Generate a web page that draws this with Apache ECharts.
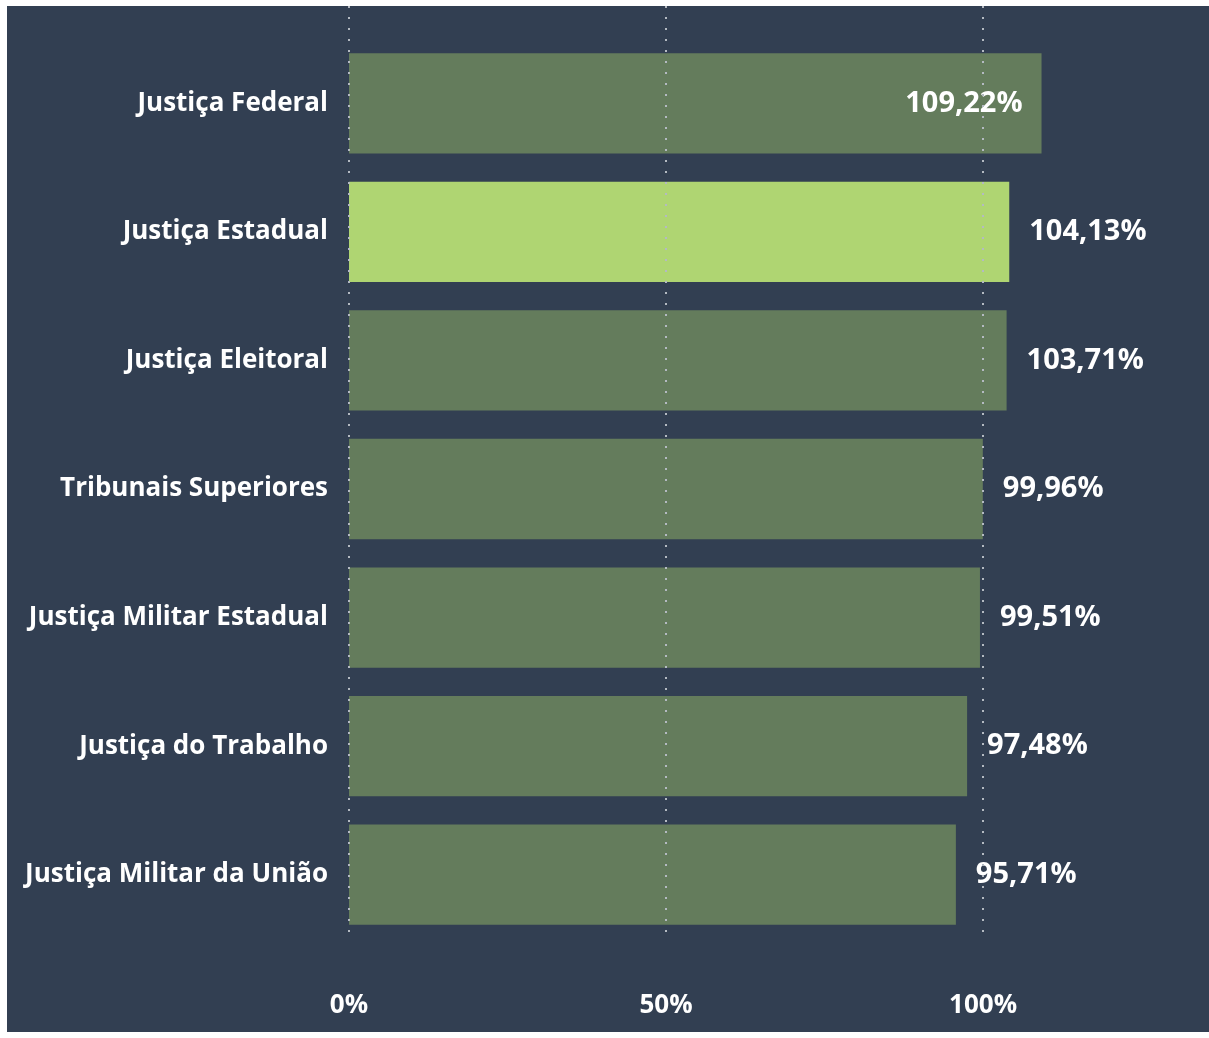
<!DOCTYPE html>
<html>
<head>
<meta charset="utf-8">
<script src="https://cdn.jsdelivr.net/npm/echarts@6/dist/echarts.min.js"></script>
<style>
  html, body { margin: 0; padding: 0; background: #ffffff; }
  #main {
    position: absolute;
    left: 7px;
    top: 6px;
    width: 1202px;
    height: 1026px;
    background: #323f52;
  }
</style>
</head>
<body>
<div id="main"></div>
<script>
// data
const categories = [
  "Justiça Federal",
  "Justiça Estadual",
  "Justiça Eleitoral",
  "Tribunais Superiores",
  "Justiça Militar Estadual",
  "Justiça do Trabalho",
  "Justiça Militar da União"
];
const values = [109.22, 104.13, 103.71, 99.96, 99.51, 97.48, 95.71];
const highlighted = "Justiça Estadual";
const tickValues = [0, 50, 100];

const barColor = "#647c5c";
const highlightColor = "#afd572";
const labelFont = "'Open Sans', 'Noto Sans', sans-serif";

let chartDom = document.getElementById("main");
let myChart = echarts.init(chartDom);

function fmt(v) {
  return v.toFixed(2).replace(".", ",") + "%";
}

let barData = values.map((v, i) => {
  let item = {
    value: v,
    itemStyle: { color: categories[i] === highlighted ? highlightColor : barColor },
  };
  // the longest bar keeps its label inside
  if (i === 0) {
    item.label = { position: "insideRight", distance: 19 };
  }
  return item;
});

let option = {
  animation: false,
  grid: [
    { left: 342, top: 33, width: 856, height: 900 },
    { left: 342, top: 0, width: 856, height: 934 },
  ],
  xAxis: [
    {
      gridIndex: 0,
      type: "value",
      min: 0,
      max: 135,
      show: false,
    },
    {
      gridIndex: 1,
      type: "value",
      min: 0,
      max: 135,
      interval: 50,
      z: 5,
      axisLine: { show: false },
      axisTick: { show: false },
      axisLabel: {
        showMaxLabel: false,
        margin: 53,
        color: "#ffffff",
        fontFamily: labelFont,
        fontWeight: "bold",
        fontSize: 26,
        formatter: (v) => (tickValues.indexOf(v) >= 0 ? v + "%" : ""),
      },
      splitLine: {
        show: true,
        showMaxLine: false,
        lineStyle: { color: "#b4bac2", width: 2, type: [2, 9] },
      },
    },
  ],
  yAxis: [
    {
      gridIndex: 0,
      type: "category",
      data: categories,
      inverse: true,
      axisLine: { show: false },
      axisTick: { show: false },
      axisLabel: {
        margin: 21,
        color: "#ffffff",
        fontFamily: labelFont,
        fontWeight: "bold",
        fontSize: 26,
        padding: [4, 0, 0, 0],
      },
    },
    {
      gridIndex: 1,
      type: "category",
      data: categories,
      show: false,
    },
  ],
  series: [
    {
      type: "bar",
      xAxisIndex: 0,
      yAxisIndex: 0,
      barWidth: "78%",
      data: barData,
      label: {
        show: true,
        position: "right",
        distance: 20,
        color: "#ffffff",
        fontFamily: labelFont,
        fontWeight: "bold",
        fontSize: 29,
        padding: [4, 0, 0, 0],
        formatter: (p) => fmt(p.value),
      },
    },
  ],
};
option && myChart.setOption(option);
</script>
</body>
</html>
